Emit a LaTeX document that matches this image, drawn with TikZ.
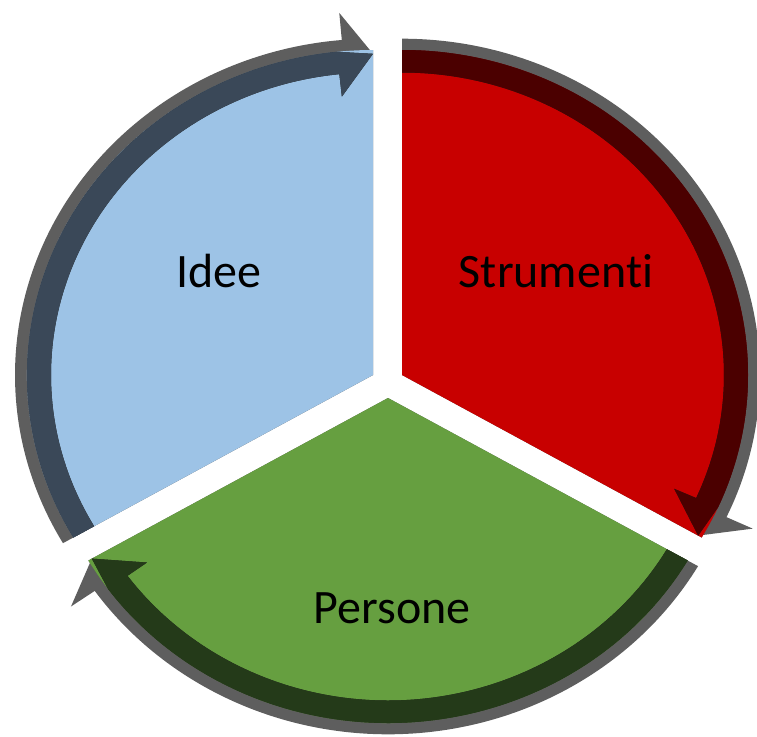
\documentclass[tikz,border=0pt]{standalone}
\usepackage{fontspec}
\setmainfont{Carlito}[Ligatures=NoCommon]
\usetikzlibrary{calc}
\definecolor{ideefill}{HTML}{9DC3E6}
\definecolor{strfill}{HTML}{C80000}
\definecolor{perfill}{HTML}{669F40}
\definecolor{ideedark}{HTML}{3A4858}
\definecolor{strdark}{HTML}{4B0000}
\definecolor{perdark}{HTML}{243A19}
\definecolor{shadowgray}{HTML}{5E5E5E}
\definecolor{sliceshadow}{HTML}{555555}
\definecolor{bandshadow}{HTML}{1F1F1F}
% gray shadow arrow: apex, t start, t back, t end
\newcommand{\cycgray}[4]{%
  \fill[shadowgray] ($(#1)+(#2:358 and 336.3)$)
    arc[start angle=#2, end angle=#3, x radius=358, y radius=336.3]
    -- ($(#1)+(#3:387 and 363.5)$)
    -- ($(#1)+(#4:342 and 321.2)$)
    -- ($(#1)+(#3:330 and 310)$)
    arc[start angle=#3, end angle=#2, x radius=330, y radius=310] -- cycle;}
% pie slice: apex, t start, t end, colour
\newcommand{\cycslice}[4]{%
  \fill[#4] (#1) -- ($(#1)+(#2:346 and 325)$)
    arc[start angle=#2, end angle=#3, x radius=346, y radius=325] -- cycle;}
% dark arrow: apex, t start, t back, t end, colour
\newcommand{\cycdark}[5]{%
  \fill[#5] ($(#1)+(#2:322 and 302.5)$)
    arc[start angle=#2, end angle=#3, x radius=322, y radius=302.5]
    -- ($(#1)+(#3:298 and 279.9)$)
    -- ($(#1)+(#4:342 and 321.2)$)
    -- ($(#1)+(#3:346 and 325)$)
    arc[start angle=#3, end angle=#2, x radius=346, y radius=325] -- cycle;}
\begin{document}
\begin{tikzpicture}[x=1pt,y=-1pt,
  lbl/.style={inner sep=0pt, font=\fontsize{48}{58}\selectfont, text=black}]
\useasboundingbox (0,0) rectangle (757,736);
\coordinate (A1) at (373,375);
\coordinate (A2) at (402,375);
\coordinate (A3) at (388,398);
% gray shadow arrows
\cycgray{A1}{150}{265}{270}
\cycgray{A2}{-90}{25}{30}
\cycgray{A3}{30}{145}{150}
% slice shadows
\begin{scope}[shift={(0,2.5)}]
\cycslice{A1}{150}{270}{sliceshadow}
\cycslice{A2}{-90}{30}{sliceshadow}
\cycslice{A3}{30}{150}{sliceshadow}
\end{scope}
% slices
\cycslice{A1}{150}{270}{ideefill}
\cycslice{A2}{-90}{30}{strfill}
\cycslice{A3}{30}{150}{perfill}
% dark arrow shadows
\begin{scope}[shift={(0,2)}]
\cycdark{A1}{150}{264}{270}{bandshadow}
\cycdark{A2}{-90}{24}{30}{bandshadow}
\cycdark{A3}{30}{144}{150}{bandshadow}
\end{scope}
% dark arrows
\cycdark{A1}{150}{264}{270}{ideedark}
\cycdark{A2}{-90}{24}{30}{strdark}
\cycdark{A3}{30}{144}{150}{perdark}
% labels
\node[lbl, anchor=base] (idee) at (219,287) {Idee};
\node[lbl, anchor=base] (strumenti) at (556,287) {Strumenti};
\node[lbl, anchor=base] (persone) at (392,623) {Persone};
\end{tikzpicture}
\end{document}
